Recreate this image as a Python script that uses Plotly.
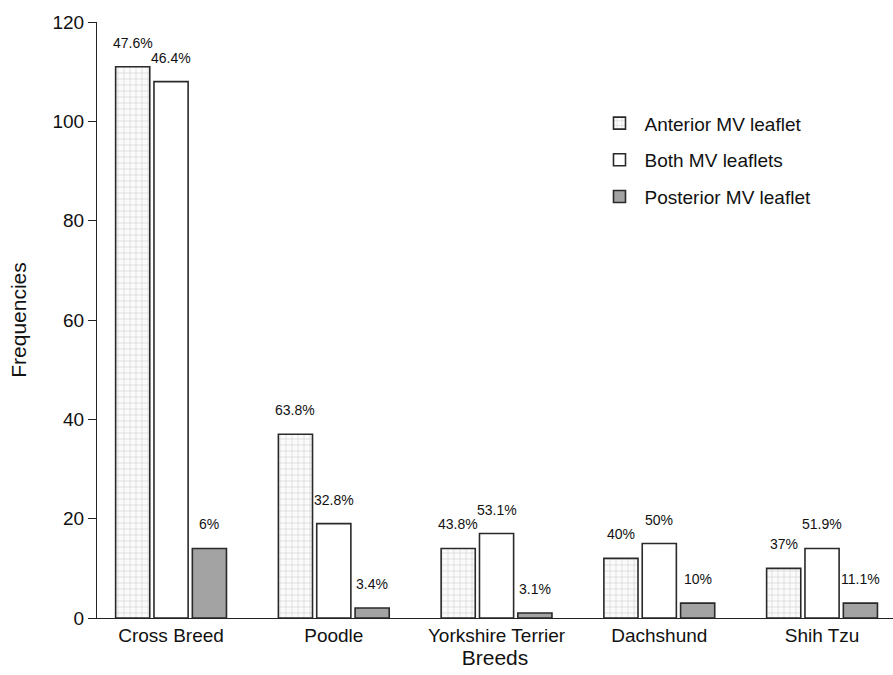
import plotly.graph_objects as go

# Breed categories and counts of affected mitral valve leaflets
breeds = ["Cross Breed", "Poodle", "Yorkshire Terrier", "Dachshund", "Shih Tzu"]
anterior = [111, 37, 14, 12, 10]
both = [108, 19, 17, 15, 14]
posterior = [14, 2, 1, 3, 3]

anterior_pct = ["47.6%", "63.8%", "43.8%", "40%", "37%"]
both_pct = ["46.4%", "32.8%", "53.1%", "50%", "51.9%"]
posterior_pct = ["6%", "3.4%", "3.1%", "10%", "11.1%"]

y_ticks = [0, 20, 40, 60, 80, 100, 120]

FONT = "Liberation Sans, Arial, sans-serif"
EDGE = "#2a2a2a"
TXT = "#111"

fig = go.Figure()

fig.add_trace(go.Bar(
    name="Anterior MV leaflet", x=breeds, y=anterior, legendgroup="a",
    marker=dict(
        color="#f4f4f4",
        line=dict(color=EDGE, width=1.6),
        pattern=dict(shape="+", size=6, solidity=0.18, fgcolor="#9a9a9a", bgcolor="#fbfbfb"),
    ),
))
fig.add_trace(go.Bar(
    name="Both MV leaflets", x=breeds, y=both, legendgroup="b",
    marker=dict(color="white", line=dict(color=EDGE, width=1.6)),
))
fig.add_trace(go.Bar(
    name="Posterior MV leaflet", x=breeds, y=posterior, legendgroup="c",
    marker=dict(color="#a3a3a3", line=dict(color=EDGE, width=1.6)),
))

# Percentage labels above each bar
slot = 0.2356
for series, labels, off in [(anterior, anterior_pct, -slot), (both, both_pct, 0.0), (posterior, posterior_pct, slot)]:
    for i, (v, t) in enumerate(zip(series, labels)):
        fig.add_annotation(
            x=i + off, y=v, xref="x", yref="y", text=t, showarrow=False,
            yanchor="middle", yshift=24, font=dict(family=FONT, size=14, color=TXT),
        )

fig.update_layout(
    width=893, height=675,
    margin=dict(l=97, r=0, t=22, b=57),
    paper_bgcolor="white", plot_bgcolor="white",
    barmode="group", bargap=0.293, bargroupgap=0.11,
    font=dict(family=FONT, size=19, color=TXT),
    showlegend=True,
    legend=dict(
        x=0.625, y=0.862, xanchor="left", yanchor="top",
        font=dict(family=FONT, size=19, color=TXT),
        traceorder="grouped", tracegroupgap=9, itemwidth=40,
        bgcolor="rgba(0,0,0,0)",
    ),
    xaxis=dict(
        range=[-0.455, 4.436], showline=True, linecolor="#222", linewidth=1.2,
        ticks="", showgrid=False, zeroline=False,
        tickfont=dict(family=FONT, size=19, color=TXT),
        title=dict(text="Breeds", font=dict(family=FONT, size=21, color=TXT), standoff=0),
    ),
    yaxis=dict(
        range=[0, 120], tickvals=y_ticks, showline=True, linecolor="#222", linewidth=1.2,
        ticks="outside", ticklen=8, tickcolor="#222", tickwidth=1.2,
        showgrid=False, zeroline=False,
        tickfont=dict(family=FONT, size=19, color=TXT),
        title=dict(text="Frequencies", font=dict(family=FONT, size=21, color=TXT), standoff=20),
    ),
)

fig.write_html("out.html")
